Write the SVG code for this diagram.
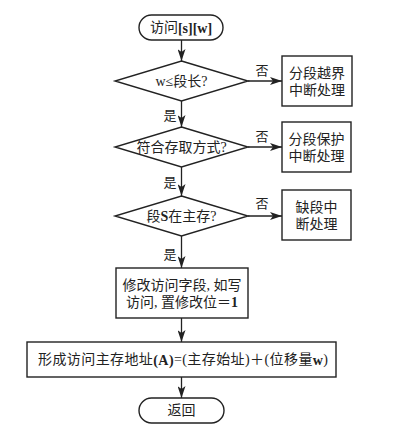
<svg xmlns="http://www.w3.org/2000/svg" width="400" height="435" viewBox="0 0 400 435">
<style>
.s{fill:#fff;stroke:#222;stroke-width:1.4}
.t{font-family:"Liberation Serif","Noto Sans CJK SC",serif;font-size:14px;fill:#222;text-anchor:middle;dominant-baseline:central}
.b{font-weight:bold}
.c line{stroke:#222;stroke-width:1.3;fill:none}
.l{font-family:"Liberation Serif","Noto Sans CJK SC",serif;font-size:13px;fill:#222;text-anchor:middle;dominant-baseline:central}
</style>
<defs>
<marker id="a" viewBox="0 0 12 8" refX="12" refY="4" markerWidth="12" markerHeight="8" markerUnits="userSpaceOnUse" orient="auto">
<path d="M0,0 L12,4 L0,8 L3,4 Z" fill="#222"/>
</marker>
</defs>
<rect width="400" height="435" fill="#fff"/>
<g class="c">
<line x1="181.5" y1="40" x2="181.5" y2="61" marker-end="url(#a)"/>
<line x1="181.5" y1="101" x2="181.5" y2="127" marker-end="url(#a)"/>
<line x1="181.5" y1="167" x2="181.5" y2="196" marker-end="url(#a)"/>
<line x1="181.5" y1="236" x2="181.5" y2="268" marker-end="url(#a)"/>
<line x1="181.5" y1="318" x2="181.5" y2="342" marker-end="url(#a)"/>
<line x1="181.5" y1="377" x2="181.5" y2="398" marker-end="url(#a)"/>
<line x1="248" y1="81" x2="282" y2="81" marker-end="url(#a)"/>
<line x1="248" y1="147" x2="282" y2="147" marker-end="url(#a)"/>
<line x1="248" y1="216" x2="282" y2="216" marker-end="url(#a)"/>
<text class="l" x="262" y="70">否</text>
<text class="l" x="262" y="136">否</text>
<text class="l" x="262" y="203">否</text>
<text class="l" x="170" y="115">是</text>
<text class="l" x="170" y="182">是</text>
<text class="l" x="170" y="254">是</text>
</g>
<g id="start">
<rect class="s" x="139" y="15" width="84" height="25" rx="12.5"/>
<text class="t" x="181" y="27.5">访问<tspan class="b">[s][w]</tspan></text>
</g>
<g id="d1">
<polygon class="s" points="181.5,61 248,81 181.5,101 115,81"/>
<text class="t" x="181.5" y="81">w≤段长?</text>
</g>
<g id="b1">
<rect class="s" x="282" y="56" width="70" height="50"/>
<text class="t" x="317" y="73">分段越界</text>
<text class="t" x="317" y="90">中断处理</text>
</g>
<g id="d2">
<polygon class="s" points="181.5,127 248,147 181.5,167 115,147"/>
<text class="t" x="181.5" y="147">符合存取方式?</text>
</g>
<g id="b2">
<rect class="s" x="282" y="122" width="69" height="50"/>
<text class="t" x="316.5" y="139">分段保护</text>
<text class="t" x="316.5" y="156">中断处理</text>
</g>
<g id="d3">
<polygon class="s" points="181.5,196 248,216 181.5,236 115,216"/>
<text class="t" x="181.5" y="216">段<tspan class="b">S</tspan>在主存?</text>
</g>
<g id="b3">
<rect class="s" x="282" y="190" width="69" height="50"/>
<text class="t" x="316.5" y="207">缺段中</text>
<text class="t" x="316.5" y="224">断处理</text>
</g>
<g id="b4">
<rect class="s" x="116" y="268" width="132" height="50"/>
<text class="t" x="182" y="285">修改访问字段, 如写</text>
<text class="t" x="182" y="302">访问, 置修改位＝<tspan class="b">1</tspan></text>
</g>
<g id="b5">
<rect class="s" x="27" y="342" width="309" height="35"/>
<text class="t" x="183" y="359.5" textLength="290" lengthAdjust="spacing">形成访问主存地址<tspan class="b">(A)</tspan>=(主存始址)＋(位移量<tspan class="b">w</tspan>)</text>
</g>
<g id="end">
<rect class="s" x="139" y="398" width="85" height="25" rx="12.5"/>
<text class="t" x="181.5" y="410.5">返回</text>
</g>
</svg>
